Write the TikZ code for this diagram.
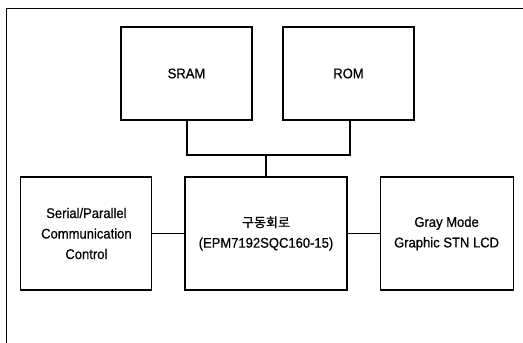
\documentclass[tikz,border=0pt]{standalone}
\usepackage{fontspec}
\setmainfont[FakeStretch=0.93, FakeBold=0.6]{Liberation Sans}
\newfontfamily\krfont[FakeBold=0.6]{Noto Sans CJK KR}
\usetikzlibrary{positioning}

\begin{document}
\begin{tikzpicture}[x=1pt, y=-1pt,
    blk/.style={draw, line width=1.1pt, align=center, inner sep=0pt,
                minimum height=113pt,
                font=\fontsize{14}{20.5}\selectfont},
    mem/.style={blk, minimum width=131pt, minimum height=93pt},
    bus/.style={line width=1.4pt},
    node distance=57pt and 32pt
]
\useasboundingbox (0,0) rectangle (523,343);
% Frame (cut at right and bottom)
\draw[line width=1.4pt] (6.5,343) -- (6.5,8.5) -- (523,8.5);
% Memories
\node[mem] (sram) at (186.5,73.5) {SRAM};
\node[mem] (rom) at (348.5,73.5) {ROM};
% Row 2: Interface -> Driver -> LCD
\node[blk, minimum width=162pt] (drv) at (266,233.5)
  {{\krfont\fontsize{13}{20.5}\selectfont 구동회로}\\(EPM7192SQC160-15)};
\node[blk, left=of drv, minimum width=131pt] (comm)
  {Serial/Parallel\\Communication\\Control};
\node[blk, right=of drv, minimum width=133pt] (lcd)
  {Gray Mode\\Graphic STN LCD};
% Bus
\coordinate (j) at (drv.north |- 0,155);
\draw[bus] (sram.south -| 187,0) |- (j) -| (rom.south -| 350,0);
\draw[bus] (j) -- (drv.north);
\draw[bus] (comm) -- (drv);
\draw[bus] (drv) -- (lcd);
\end{tikzpicture}
\end{document}
